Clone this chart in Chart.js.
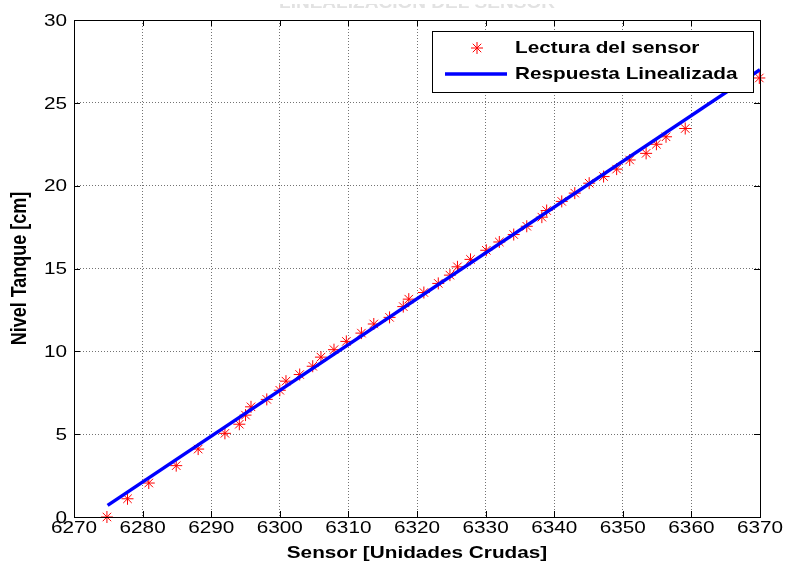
<!DOCTYPE html>
<html>
<head>
<meta charset="utf-8">
<script src="https://cdn.jsdelivr.net/npm/chart.js@4.4.1/dist/chart.umd.min.js"></script>
<style>
html,body{margin:0;padding:0;background:#fff;}
#wrap{width:785px;height:565px;}
</style>
</head>
<body>
<div id="wrap"><canvas id="c" width="785" height="565"></canvas></div>
<script>
// ---- data ----
const chartTitle = "LINEALIZACION DEL SENSOR";
const xTitle = "Sensor [Unidades Crudas]";
const yTitle = "Nivel Tanque [cm]";
const seriesNames = ["Lectura del sensor", "Respuesta Linealizada"];

const sensorX = [6274.8, 6277.8, 6280.9, 6284.9, 6288.1, 6292.0, 6294.1, 6295.0, 6295.8, 6298.1,
  6300.0, 6300.9, 6302.9, 6304.8, 6306.0, 6307.9, 6309.7, 6311.9, 6313.7, 6316.0,
  6318.0, 6318.8, 6321.0, 6323.1, 6324.8, 6325.9, 6327.8, 6330.1, 6332.0, 6334.1,
  6336.0, 6338.2, 6338.9, 6341.1, 6343.0, 6345.1, 6347.2, 6349.1, 6351.0, 6353.4,
  6354.9, 6356.3, 6359.1, 6369.9];
const nivelY = [0.0, 1.1, 2.05, 3.1, 4.1, 5.05, 5.6, 6.15, 6.65, 7.1,
  7.65, 8.2, 8.6, 9.1, 9.65, 10.1, 10.6, 11.1, 11.65, 12.05,
  12.7, 13.15, 13.55, 14.1, 14.6, 15.1, 15.55, 16.1, 16.6, 17.05,
  17.55, 18.1, 18.5, 19.05, 19.55, 20.15, 20.55, 21.0, 21.55, 21.95,
  22.5, 22.95, 23.45, 26.5];

const lineX = [6274.9, 6370.0];
const lineY = [0.7, 27.0];

const xTicks = [6270, 6280, 6290, 6300, 6310, 6320, 6330, 6340, 6350, 6360, 6370];
const yTicks = [0, 5, 10, 15, 20, 25, 30];

// ---- chart ----
const FONT = "'Liberation Sans', Arial, Helvetica, sans-serif";
const HS = 1.22;   // horizontal stretch of the reference text
const scatterPts = sensorX.map((x, i) => ({x: x, y: nivelY[i]}));
const linePts = lineX.map((x, i) => ({x: x, y: lineY[i]}));

function sText(ctx, txt, x, y, align, hs) {
  // draw text with horizontal stretch hs, anchored at x with given align
  ctx.save();
  ctx.translate(x, y);
  ctx.scale(hs, 1);
  ctx.textAlign = align;
  ctx.fillText(txt, 0, 0);
  ctx.restore();
}

const decor = {
  id: 'decor',
  afterDraw(chart) {
    const ctx = chart.ctx;
    const a = chart.chartArea;
    const xs = chart.scales.x, ys = chart.scales.y;
    ctx.save();
    // frame
    ctx.strokeStyle = '#000';
    ctx.lineWidth = 1;
    ctx.strokeRect(Math.round(a.left) + 0.5, Math.round(a.top) + 0.5,
      Math.round(a.right - a.left), Math.round(a.bottom - a.top));
    // inward ticks
    ctx.beginPath();
    xTicks.forEach(v => {
      const px = Math.round(xs.getPixelForValue(v)) + 0.5;
      ctx.moveTo(px, a.bottom); ctx.lineTo(px, a.bottom - 6);
      ctx.moveTo(px, a.top); ctx.lineTo(px, a.top + 6);
    });
    yTicks.forEach(v => {
      const py = Math.round(ys.getPixelForValue(v)) + 0.5;
      ctx.moveTo(a.left, py); ctx.lineTo(a.left + 6, py);
      ctx.moveTo(a.right, py); ctx.lineTo(a.right - 6, py);
    });
    ctx.stroke();

    // tick labels
    ctx.fillStyle = '#000';
    ctx.font = '17px ' + FONT;
    ctx.textBaseline = 'top';
    xTicks.forEach(v => sText(ctx, String(v), xs.getPixelForValue(v), a.bottom + 3, 'center', HS));
    ctx.textBaseline = 'middle';
    yTicks.forEach(v => sText(ctx, String(v), a.left - 7, ys.getPixelForValue(v) + 1, 'right', HS));

    // axis titles
    ctx.font = 'bold 17px ' + FONT;
    ctx.textBaseline = 'middle';
    sText(ctx, xTitle, (a.left + a.right) / 2, 553, 'center', HS);
    ctx.save();
    ctx.translate(20, (a.top + a.bottom) / 2);
    ctx.scale(HS, 1);
    ctx.rotate(-Math.PI / 2);
    ctx.font = 'bold 18px ' + FONT;
    ctx.textAlign = 'center';
    ctx.fillText(yTitle, 0, 0);
    ctx.restore();

    // clipped faint title
    ctx.save();
    ctx.beginPath();
    ctx.rect(0, 4, 785, 5);
    ctx.clip();
    ctx.fillStyle = '#e2e2e2';
    ctx.font = 'bold 16px ' + FONT;
    ctx.textBaseline = 'alphabetic';
    const tw = ctx.measureText(chartTitle).width;
    sText(ctx, chartTitle, (a.left + a.right) / 2, 8, 'center', 276 / tw);
    ctx.restore();

    // legend box
    const bx = 432, by = 31, bw = 321, bh = 61;
    ctx.fillStyle = '#fff';
    ctx.fillRect(bx, by, bw, bh);
    ctx.strokeStyle = '#000';
    ctx.lineWidth = 1;
    ctx.strokeRect(bx + 0.5, by + 0.5, bw, bh);
    // entry 1: star
    const sx = 477, sy = 48, r = 6;
    ctx.strokeStyle = '#ff0000';
    ctx.lineWidth = 1;
    ctx.beginPath();
    for (let k = 0; k < 4; k++) {
      const ang = k * Math.PI / 4;
      ctx.moveTo(sx - r * Math.cos(ang), sy - r * Math.sin(ang));
      ctx.lineTo(sx + r * Math.cos(ang), sy + r * Math.sin(ang));
    }
    ctx.stroke();
    // entry 2: line
    ctx.strokeStyle = '#0000ff';
    ctx.lineWidth = 3.5;
    ctx.beginPath();
    ctx.moveTo(445, 74); ctx.lineTo(507, 74);
    ctx.stroke();
    ctx.fillStyle = '#000';
    ctx.font = 'bold 17px ' + FONT;
    ctx.textBaseline = 'middle';
    sText(ctx, seriesNames[0], 515, 48, 'left', HS);
    sText(ctx, seriesNames[1], 515, 74, 'left', HS);
    ctx.restore();
  }
};

new Chart(document.getElementById('c'), {
  type: 'scatter',
  data: {
    datasets: [
      {
        label: seriesNames[1],
        data: linePts,
        showLine: true,
        borderColor: '#0000ff',
        backgroundColor: '#0000ff',
        borderWidth: 3.5,
        pointRadius: 0,
        order: 0
      },
      {
        label: seriesNames[0],
        data: scatterPts,
        showLine: false,
        pointStyle: 'star',
        pointRadius: 6,
        borderColor: '#ff0000',
        backgroundColor: '#ff0000',
        pointBorderWidth: 1,
        borderWidth: 1,
        clip: false,
        order: 1
      }
    ]
  },
  options: {
    responsive: false,
    animation: false,
    events: [],
    layout: {padding: {left: 0, right: 25, top: 20, bottom: 0}},
    plugins: {legend: {display: false}, tooltip: {enabled: false}, title: {display: false}},
    scales: {
      x: {
        type: 'linear',
        min: 6270, max: 6370,
        afterFit: s => { s.height = 48; },
        afterBuildTicks: s => { s.ticks = xTicks.map(v => ({value: v})); },
        grid: {color: 'rgba(0,0,0,0.55)', drawTicks: false, lineWidth: 1},
        border: {display: false, dash: [1, 2]},
        ticks: {display: false}
      },
      y: {
        type: 'linear',
        min: 0, max: 30,
        afterFit: s => { s.width = 74; },
        afterBuildTicks: s => { s.ticks = yTicks.map(v => ({value: v})); },
        grid: {color: 'rgba(0,0,0,0.55)', drawTicks: false, lineWidth: 1},
        border: {display: false, dash: [1, 2]},
        ticks: {display: false}
      }
    }
  },
  plugins: [decor]
});
</script>
</body>
</html>
